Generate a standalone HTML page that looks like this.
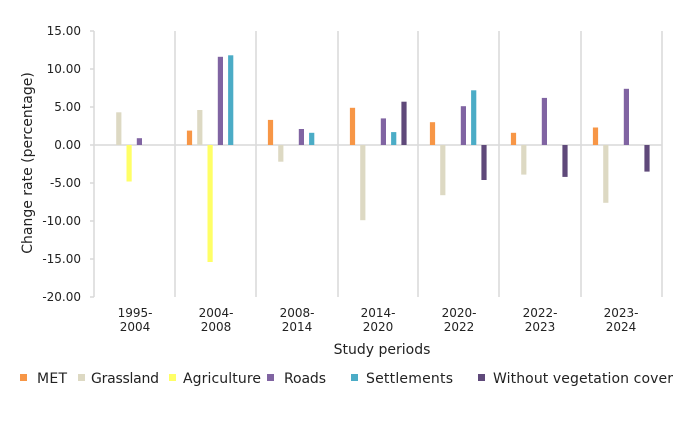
<!DOCTYPE html>
<html><head><meta charset="utf-8"><style>
html,body{margin:0;padding:0;background:#fff;}
svg{display:block;font-family:"DejaVu Sans","Liberation Sans",sans-serif;}
</style></head><body>
<svg width="699" height="427" viewBox="0 0 699 427" xmlns="http://www.w3.org/2000/svg">
<g stroke="#d9d9d9" stroke-width="1.5">
<line x1="94" y1="31" x2="94" y2="297"/>
<line x1="175" y1="31" x2="175" y2="297"/>
<line x1="256" y1="31" x2="256" y2="297"/>
<line x1="338" y1="31" x2="338" y2="297"/>
<line x1="418" y1="31" x2="418" y2="297"/>
<line x1="499" y1="31" x2="499" y2="297"/>
<line x1="581" y1="31" x2="581" y2="297"/>
<line x1="662" y1="31" x2="662" y2="297"/>
<line x1="94" y1="145" x2="662" y2="145"/>
<line x1="90" y1="31" x2="94" y2="31"/><line x1="90" y1="69" x2="94" y2="69"/><line x1="90" y1="107" x2="94" y2="107"/><line x1="90" y1="145" x2="94" y2="145"/><line x1="90" y1="183" x2="94" y2="183"/><line x1="90" y1="221" x2="94" y2="221"/><line x1="90" y1="259" x2="94" y2="259"/><line x1="90" y1="297" x2="94" y2="297"/>
</g>
<g font-size="12" fill="#222" text-anchor="end">
<text x="81" y="35">15.00</text><text x="81" y="73">10.00</text><text x="81" y="111">5.00</text><text x="81" y="149">0.00</text><text x="81" y="187">-5.00</text><text x="81" y="225">-10.00</text><text x="81" y="263">-15.00</text><text x="81" y="301">-20.00</text>
</g>
<text transform="translate(32,163) rotate(-90)" font-size="14" fill="#222" text-anchor="middle">Change rate (percentage)</text>
<g>
<rect x="116.2" y="112.3" width="5.2" height="32.7" fill="#ddd9c3"/>
<rect x="126.5" y="145" width="5.2" height="36.5" fill="#ffff66"/>
<rect x="136.8" y="138.2" width="5.2" height="6.8" fill="#8064a2"/>

<rect x="186.9" y="130.6" width="5.2" height="14.4" fill="#f79646"/>
<rect x="197.2" y="110.0" width="5.2" height="35.0" fill="#ddd9c3"/>
<rect x="207.5" y="145" width="5.2" height="117.0" fill="#ffff66"/>
<rect x="217.8" y="56.8" width="5.2" height="88.2" fill="#8064a2"/>
<rect x="228.1" y="55.3" width="5.2" height="89.7" fill="#4bacc6"/>

<rect x="267.9" y="119.9" width="5.2" height="25.1" fill="#f79646"/>
<rect x="278.2" y="145" width="5.2" height="16.7" fill="#ddd9c3"/>
<rect x="298.8" y="129.0" width="5.2" height="16.0" fill="#8064a2"/>
<rect x="309.1" y="132.8" width="5.2" height="12.2" fill="#4bacc6"/>

<rect x="349.9" y="107.8" width="5.2" height="37.2" fill="#f79646"/>
<rect x="360.2" y="145" width="5.2" height="75.2" fill="#ddd9c3"/>
<rect x="380.8" y="118.4" width="5.2" height="26.6" fill="#8064a2"/>
<rect x="391.1" y="132.1" width="5.2" height="12.9" fill="#4bacc6"/>
<rect x="401.4" y="101.7" width="5.2" height="43.3" fill="#5f497a"/>

<rect x="429.9" y="122.2" width="5.2" height="22.8" fill="#f79646"/>
<rect x="440.2" y="145" width="5.2" height="50.2" fill="#ddd9c3"/>
<rect x="460.8" y="106.2" width="5.2" height="38.8" fill="#8064a2"/>
<rect x="471.1" y="90.3" width="5.2" height="54.7" fill="#4bacc6"/>
<rect x="481.4" y="145" width="5.2" height="35.0" fill="#5f497a"/>

<rect x="510.9" y="132.8" width="5.2" height="12.2" fill="#f79646"/>
<rect x="521.2" y="145" width="5.2" height="29.6" fill="#ddd9c3"/>
<rect x="541.8" y="97.9" width="5.2" height="47.1" fill="#8064a2"/>
<rect x="562.4" y="145" width="5.2" height="31.9" fill="#5f497a"/>

<rect x="592.9" y="127.5" width="5.2" height="17.5" fill="#f79646"/>
<rect x="603.2" y="145" width="5.2" height="57.8" fill="#ddd9c3"/>
<rect x="623.8" y="88.8" width="5.2" height="56.2" fill="#8064a2"/>
<rect x="644.4" y="145" width="5.2" height="26.6" fill="#5f497a"/>
</g>
<g font-size="12" fill="#222" text-anchor="middle">
<text x="135" y="317">1995-</text><text x="135" y="331">2004</text>
<text x="216" y="317">2004-</text><text x="216" y="331">2008</text>
<text x="297" y="317">2008-</text><text x="297" y="331">2014</text>
<text x="378" y="317">2014-</text><text x="378" y="331">2020</text>
<text x="459" y="317">2020-</text><text x="459" y="331">2022</text>
<text x="540" y="317">2022-</text><text x="540" y="331">2023</text>
<text x="621" y="317">2023-</text><text x="621" y="331">2024</text>
</g>
<text x="382" y="354" font-size="14" fill="#222" text-anchor="middle">Study periods</text>
<g font-size="14" fill="#222">
<rect x="20" y="374" width="7" height="7" fill="#f79646"/><text x="37" y="383" textLength="30">MET</text>
<rect x="78" y="374" width="7" height="7" fill="#ddd9c3"/><text x="91" y="383" textLength="68">Grassland</text>
<rect x="169" y="374" width="7" height="7" fill="#ffff66"/><text x="183" y="383" textLength="78">Agriculture</text>
<rect x="267" y="374" width="7" height="7" fill="#8064a2"/><text x="284" y="383" textLength="42">Roads</text>
<rect x="351" y="374" width="7" height="7" fill="#4bacc6"/><text x="366" y="383" textLength="87">Settlements</text>
<rect x="478" y="374" width="7" height="7" fill="#5f497a"/><text x="493" y="383" textLength="180">Without vegetation cover</text>
</g>
</svg>
</body></html>
